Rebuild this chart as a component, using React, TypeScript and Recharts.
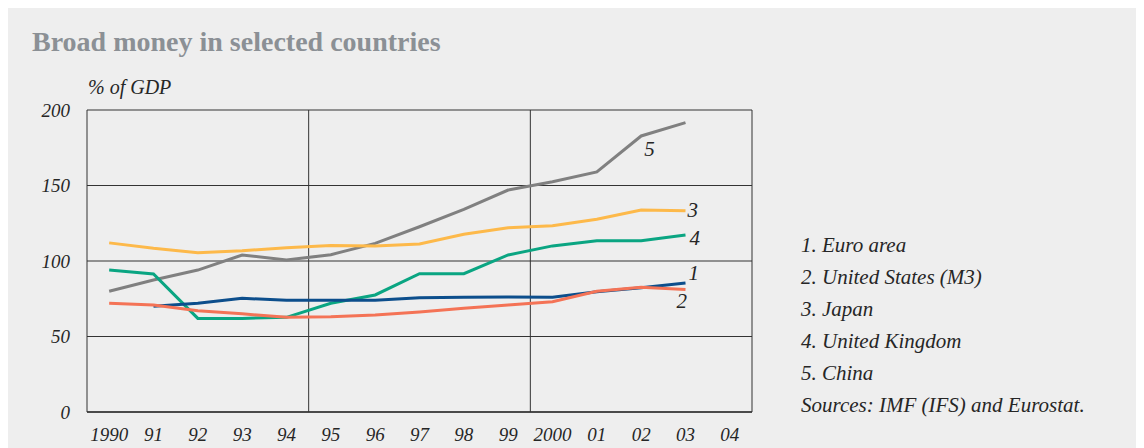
import React from 'react';
import { LineChart, Line, XAxis, YAxis, CartesianGrid, ReferenceLine } from 'recharts';

const years = ['1990', '91', '92', '93', '94', '95', '96', '97', '98', '99', '2000', '01', '02', '03', '04'];
const euroArea = [null, 70, 72, 75.3, 74, 74, 74, 75.7, 76, 76.2, 76, 79.7, 82.3, 85.4, null];
const unitedStates = [72, 70.9, 67, 65, 62.7, 63, 64.2, 66.2, 68.7, 70.9, 73, 80, 82.6, 81.2, null];
const japan = [112, 108.4, 105.5, 106.8, 108.8, 110.2, 110, 111.3, 117.7, 122, 123.4, 127.6, 133.8, 133.3, null];
const unitedKingdom = [94, 91.4, 62, 62, 62.7, 72, 77.5, 91.6, 91.6, 104, 110, 113.4, 113.4, 117.2, null];
const china = [80, 87.4, 94, 104, 100.7, 104.2, 111.7, 122.7, 134.2, 147, 152.5, 159, 182.8, 191.6, null];

const yTicks = [0, 50, 100, 150, 200];
const legendItems = ['1. Euro area', '2. United States (M3)', '3. Japan', '4. United Kingdom', '5. China', 'Sources: IMF (IFS) and Eurostat.'];

const data = years.map((label, i) => ({
  i,
  label,
  euro: euroArea[i],
  us: unitedStates[i],
  japan: japan[i],
  uk: unitedKingdom[i],
  china: china[i],
}));

const FONT = '"Liberation Serif", "Times New Roman", serif';
const INK = '#262626';

const makeLabel = (text: string, idx: number, dx: number, dy: number) => (props: any) => {
  if (props.index !== idx) return null;
  return (
    <text x={props.x + dx} y={props.y + dy} fontFamily={FONT} fontStyle="italic" fontSize={21} fill={INK} textAnchor="start">
      {text}
    </text>
  );
};

const labelTicks = years.map((_, i) => i);
const markTicks = years.slice(0, -1).map((_, i) => i + 0.5);

export default function App() {
  return (
    <div style={{ position: 'relative', width: 1136, height: 440, background: '#eeeeee', overflow: 'hidden' }}>
      <div style={{ position: 'absolute', left: 0, top: 0 }}>
        <LineChart width={760} height={440} data={data} margin={{ top: 102, right: 16, bottom: 0, left: 0 }}>
          <CartesianGrid vertical={false} stroke="#333" strokeWidth={1} />
          <XAxis
            dataKey="i"
            type="number"
            domain={[-0.5, 14.5]}
            ticks={labelTicks}
            interval={0}
            tickFormatter={(v: number) => years[v]}
            height={36}
            tickSize={0}
            tickMargin={16}
            axisLine={{ stroke: '#333', strokeWidth: 1.5 }}
            tick={{ fontFamily: FONT, fontStyle: 'italic', fontSize: 19, fill: INK }}
          />
          <XAxis
            xAxisId="marks"
            dataKey="i"
            type="number"
            domain={[-0.5, 14.5]}
            ticks={markTicks}
            interval={0}
            mirror
            height={0}
            tickSize={6}
            axisLine={false}
            tickLine={{ stroke: '#333' }}
            tickFormatter={() => ''}
          />
          <YAxis
            domain={[0, 200]}
            ticks={yTicks}
            width={79}
            tickSize={0}
            tickMargin={17}
            axisLine={{ stroke: '#333' }}
            tick={{ fontFamily: FONT, fontStyle: 'italic', fontSize: 19, fill: INK }}
          />
          <ReferenceLine x={4.5} stroke="#333" />
          <ReferenceLine x={9.5} stroke="#333" />
          <ReferenceLine x={14.5} stroke="#333" />
          <Line dataKey="china" stroke="#808080" strokeWidth={3} dot={false} isAnimationActive={false} label={makeLabel('5', 12, 3, 20)} />
          <Line dataKey="japan" stroke="#fdb94a" strokeWidth={3} dot={false} isAnimationActive={false} label={makeLabel('3', 13, 2, 6.5)} />
          <Line dataKey="uk" stroke="#0aa582" strokeWidth={3} dot={false} isAnimationActive={false} label={makeLabel('4', 13, 4, 10)} />
          <Line dataKey="euro" stroke="#0c4e8c" strokeWidth={3} dot={false} isAnimationActive={false} label={makeLabel('1', 13, 3, -3)} />
          <Line dataKey="us" stroke="#f47356" strokeWidth={3} dot={false} isAnimationActive={false} label={makeLabel('2', 13, -9, 19)} />
        </LineChart>
      </div>
      <svg width={1136} height={440} style={{ position: 'absolute', left: 0, top: 0, pointerEvents: 'none' }}>
        <text x={24} y={43} fontFamily={FONT} fontWeight="bold" fontSize={28} fill="#8b9095">
          Broad money in selected countries
        </text>
        <text x={80} y={86} fontFamily={FONT} fontStyle="italic" fontSize={20} fill={INK}>
          % of GDP
        </text>
        {legendItems.map((t, k) => (
          <text key={t} x={793} y={244 + k * 32} fontFamily={FONT} fontStyle="italic" fontSize={21} fill={INK}>
            {t}
          </text>
        ))}
      </svg>
    </div>
  );
}
